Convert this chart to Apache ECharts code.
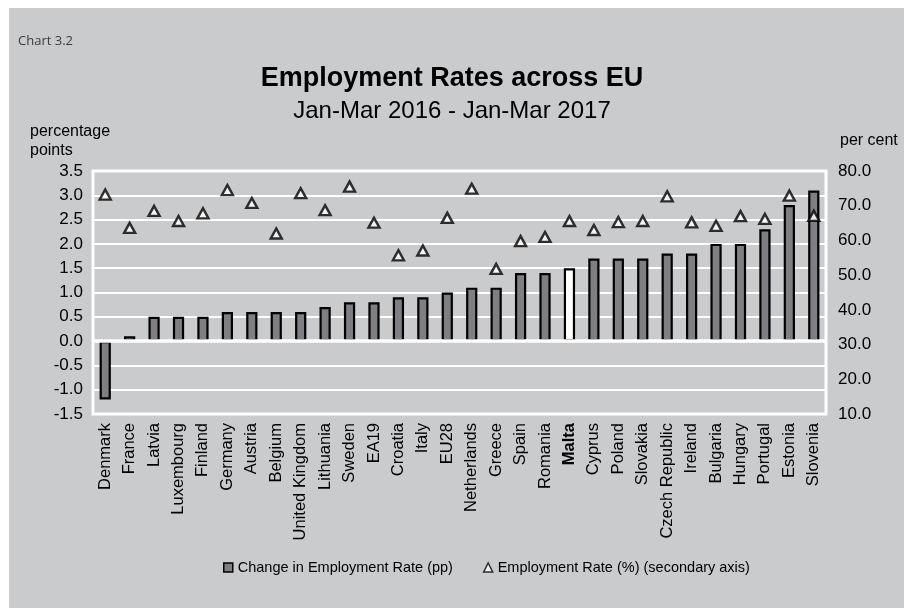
<!DOCTYPE html>
<html>
<head>
<meta charset="utf-8">
<title>Employment Rates across EU</title>
<script src="https://cdn.jsdelivr.net/npm/echarts@6/dist/echarts.min.js"></script>
<style>
  html, body { margin: 0; padding: 0; background: #fff; }
  #frame { position: absolute; left: 0; top: 0; width: 904px; height: 608px; background: #fff; }
  #panel { position: absolute; left: 9px; top: 8px; right: 0; bottom: 0; background: #cacbcd; }
  #chart { position: absolute; left: 0; top: 0; width: 904px; height: 608px; }
</style>
</head>
<body>
<div id="frame">
  <div id="panel"></div>
  <div id="chart"></div>
</div>
<script>
// Countries, ordered by the change in employment rate
const countries = [
  'Denmark', 'France', 'Latvia', 'Luxembourg', 'Finland', 'Germany', 'Austria',
  'Belgium', 'United Kingdom', 'Lithuania', 'Sweden', 'EA19', 'Croatia', 'Italy',
  'EU28', 'Netherlands', 'Greece', 'Spain', 'Romania', 'Malta', 'Cyprus', 'Poland',
  'Slovakia', 'Czech Republic', 'Ireland', 'Bulgaria', 'Hungary', 'Portugal',
  'Estonia', 'Slovenia'
];

// Change in employment rate, percentage points (left axis)
const changePP = [
  -1.2, 0.1, 0.5, 0.5, 0.5, 0.6, 0.6,
  0.6, 0.6, 0.7, 0.8, 0.8, 0.9, 0.9,
  1.0, 1.1, 1.1, 1.4, 1.4, 1.5, 1.7, 1.7,
  1.7, 1.8, 1.8, 2.0, 2.0, 2.3,
  2.8, 3.1
];

// Employment rate, per cent (right axis)
const ratePct = [
  73.2, 63.6, 68.5, 65.6, 67.8, 74.5, 70.8,
  62.0, 73.6, 68.7, 75.5, 65.1, 55.7, 57.1,
  66.5, 74.9, 51.8, 59.8, 61.0, 65.6, 63.0, 65.3,
  65.6, 72.7, 65.2, 64.2, 67.0, 66.2,
  72.9, 67.1
];

const highlighted = 'Malta';

const FONT = '"Liberation Sans", Arial, sans-serif';
const BAR_FILL = '#7e7e83';

const barData = changePP.map((v, i) => (
  countries[i] === highlighted
    ? { value: v, itemStyle: { color: '#ffffff' } }
    : v
));

const chart = echarts.init(document.getElementById('chart'), null, { renderer: 'canvas' });

chart.setOption({
  animation: false,
  backgroundColor: 'transparent',
  textStyle: { fontFamily: FONT, color: '#000' },
  title: [
    {
      text: 'Chart 3.2', left: 13, top: 30,
      textStyle: { fontFamily: '"Open Sans", sans-serif', fontSize: 13, fontWeight: 'normal', color: '#3c3c3c' }
    },
    {
      text: 'Employment Rates across EU', left: 'center', top: 60,
      textStyle: { fontFamily: FONT, fontSize: 27, fontWeight: 'bold', color: '#000' }
    },
    {
      text: 'Jan-Mar 2016 - Jan-Mar 2017', left: 'center', top: 94,
      textStyle: { fontFamily: FONT, fontSize: 24, fontWeight: 'normal', color: '#000' }
    },
    {
      text: 'percentage\npoints', left: 25, top: 117,
      textStyle: { fontFamily: FONT, fontSize: 16, fontWeight: 'normal', color: '#000', lineHeight: 19 }
    },
    {
      text: 'per cent', left: 835, top: 128,
      textStyle: { fontFamily: FONT, fontSize: 16, fontWeight: 'normal', color: '#000' }
    }
  ],
  grid: {
    show: true,
    left: 93, right: 78, top: 171, bottom: 194,
    borderColor: '#ffffff', borderWidth: 3,
    backgroundColor: 'transparent',
    containLabel: false
  },
  legend: {
    bottom: 28,
    left: 218,
    itemGap: 30,
    itemWidth: 9,
    itemHeight: 9,
    textStyle: { fontFamily: FONT, fontSize: 14.5, color: '#000' },
    data: [
      {
        name: 'Change in Employment Rate (pp)', icon: 'rect',
        itemStyle: { color: BAR_FILL, borderColor: '#000', borderWidth: 1.5 }
      },
      {
        name: 'Employment Rate (%) (secondary axis)', icon: 'triangle',
        itemStyle: { color: '#fff', borderColor: '#000', borderWidth: 1.5 }
      }
    ]
  },
  xAxis: {
    type: 'category',
    data: countries,
    axisLine: { show: false, onZero: false },
    axisTick: { show: false },
    splitLine: { show: false },
    axisLabel: {
      interval: 0,
      rotate: 90,
      margin: 9,
      fontFamily: FONT,
      fontSize: 16.5,
      color: '#000',
      formatter: (name) => (name === highlighted ? '{b|' + name + '}' : name),
      rich: { b: { fontWeight: 'bold', fontFamily: FONT, fontSize: 16.5, color: '#000' } }
    }
  },
  yAxis: [
    {
      type: 'value',
      min: -1.5, max: 3.5, interval: 0.5,
      axisLine: { show: false },
      axisTick: { show: false },
      splitLine: { show: true, lineStyle: { color: '#ffffff', width: 2 } },
      axisLabel: {
        margin: 10, fontFamily: FONT, fontSize: 17, color: '#000',
        formatter: (v) => v.toFixed(1)
      }
    },
    {
      type: 'value',
      min: 10, max: 80, interval: 10,
      position: 'right',
      axisLine: { show: false },
      axisTick: { show: false },
      splitLine: { show: false },
      axisLabel: {
        margin: 12, fontFamily: FONT, fontSize: 17, color: '#000',
        formatter: (v) => v.toFixed(1)
      }
    }
  ],
  series: [
    {
      name: 'Change in Employment Rate (pp)',
      type: 'bar',
      yAxisIndex: 0,
      data: barData,
      barWidth: '46%',
      itemStyle: { color: BAR_FILL, borderColor: '#000', borderWidth: 2.2 },
      markLine: {
        silent: true,
        symbol: 'none',
        label: { show: false },
        lineStyle: { color: '#ffffff', width: 3.5, type: 'solid' },
        data: [{ yAxis: 0 }]
      }
    },
    {
      name: 'Employment Rate (%) (secondary axis)',
      type: 'scatter',
      yAxisIndex: 1,
      data: ratePct,
      symbol: 'triangle',
      symbolSize: [11, 10],
      z: 4,
      itemStyle: { color: '#ffffff', borderColor: '#000', borderWidth: 2.4 }
    }
  ]
});
</script>
</body>
</html>
